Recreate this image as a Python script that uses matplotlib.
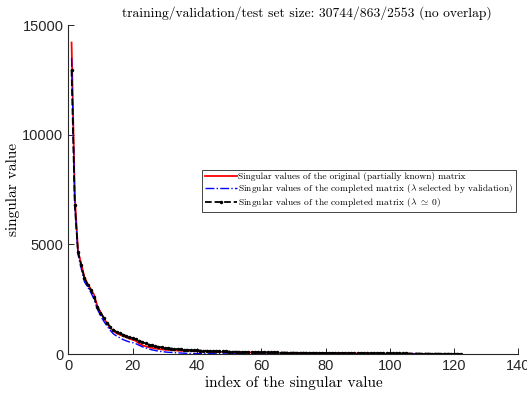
import matplotlib
matplotlib.use("Agg")
import matplotlib.pyplot as plt
import numpy as np

plt.rcParams['mathtext.fontset'] = 'cm'
plt.rcParams['axes.formatter.use_mathtext'] = False

orig = [14200, 7200, 4700, 4100, 3500, 3200, 2950, 2700, 2200, 1900,
        1650, 1400, 1200, 1050, 950, 880, 820, 760, 700, 650,
        600, 480, 400, 350, 310, 280, 255, 230, 210, 195,
        185, 175, 165, 158, 150, 145, 140, 135, 130, 125,
        120, 116, 112, 108, 104, 100, 97, 94, 91, 88,
        85, 82, 80, 78, 76, 74, 72, 70, 68, 66,
        64, 62, 60, 58, 56, 54, 52, 50, 48, 46,
        45, 44, 43, 42, 41, 40, 39, 38, 37, 36,
        35, 34, 33, 32, 31, 30, 29, 28, 27, 26,
        25, 24, 23, 22, 21, 20, 19, 18, 17, 16,
        15, 14, 13, 12, 11, 10, 9, 8, 7, 6,
        5, 5, 4, 4, 3, 3, 2, 2, 1, 1, 1, 0]

valid = [13500, 6900, 4550, 3900, 3300, 3050, 2800, 2500, 2050, 1750,
         1500, 1280, 1080, 920, 820, 740, 660, 600, 550, 520,
         470, 400, 330, 280, 230, 190, 160, 130, 110, 95,
         80, 70, 60, 52, 45, 38, 32, 27, 23, 20,
         18, 16, 14, 12, 11, 10, 9, 8, 7, 7,
         6, 6, 5, 5, 5, 4, 4, 4, 4, 3,
         3, 3, 3, 3, 3, 2, 2, 2, 2, 2,
         2, 2, 2, 2, 2, 2, 2, 1, 1, 1,
         1, 1, 1, 1, 1, 1, 1, 1, 1, 1,
         1, 1, 1, 1, 1, 1, 1, 1, 1, 1,
         1, 1, 1, 1, 1, 1, 1, 1, 1, 1,
         1, 1, 1, 1, 0, 0, 0, 0, 0, 0, 0, 0]

zero = [12950, 6800, 4650, 4050, 3450, 3150, 2900, 2600, 2150, 1880,
        1650, 1420, 1250, 1110, 1000, 940, 880, 820, 770, 720,
        670, 610, 540, 480, 430, 390, 360, 330, 305, 285,
        265, 250, 235, 222, 210, 200, 190, 180, 172, 165,
        158, 152, 146, 140, 135, 130, 125, 120, 116, 112,
        108, 104, 100, 97, 94, 91, 88, 85, 82, 80,
        78, 76, 74, 72, 70, 68, 66, 64, 62, 60,
        58, 57, 56, 55, 54, 53, 52, 51, 50, 49,
        48, 47, 46, 45, 44, 43, 42, 41, 40, 39,
        38, 37, 36, 35, 34, 33, 32, 31, 30, 29,
        28, 27, 26, 25, 24, 23, 22, 21, 20, 19,
        18, 17, 16, 15, 14, 13, 12, 11, 10, 9, 8, 7]

idx = np.arange(1, len(orig) + 1)

fig = plt.figure(figsize=(5.27, 3.94), dpi=100)
ax = fig.add_axes([0.1297, 0.1015, 0.854, 0.835])

ax.plot(idx, orig, '-', color='red', lw=1.3,
        label='Singular values of the original (partially known) matrix')
ax.plot(idx, valid, '-.', color='blue', lw=1.0,
        label=r'Singular values of the completed matrix ($\lambda$ selected by validation)')
ax.plot(idx, zero, '--', color='black', lw=1.3, marker='.', markersize=3,
        label=r'Singular values of the completed matrix ($\lambda\ \simeq\ 0$)')

ax.set_xlim(0, 140)
ax.set_ylim(0, 15000)
ax.set_xticks(np.arange(0, 141, 20))
ax.set_yticks([0, 5000, 10000, 15000])

for s in ['top', 'right']:
    ax.spines[s].set_visible(False)
for s in ['left', 'bottom']:
    ax.spines[s].set_color('#262626')
    ax.spines[s].set_linewidth(0.8)
ax.tick_params(direction='in', length=4, width=0.7, colors='#262626',
               labelsize=10.5)
for lab in ax.get_xticklabels() + ax.get_yticklabels():
    lab.set_fontfamily('Liberation Sans')
    lab.set_color('#262626')

ax.set_title('training/validation/test set size: 30744/863/2553 (no overlap)',
             fontfamily='cmr10', fontsize=9.75, loc='center', x=0.529, pad=6)
ax.set_xlabel('index of the singular value', fontfamily='cmr10', fontsize=11,
              labelpad=2)
ax.set_ylabel('singular value', fontfamily='cmr10', fontsize=11, labelpad=2)

leg = ax.legend(loc='upper left', bbox_to_anchor=(0.298, 0.559),
                prop={'family': 'cmr10', 'size': 6.8}, frameon=True,
                fancybox=False, edgecolor='#262626', framealpha=1,
                handlelength=3.4, handletextpad=0.15, borderpad=0.25,
                labelspacing=0.1, borderaxespad=0)
leg.get_frame().set_linewidth(0.6)

fig.savefig('out.png', dpi=100)
